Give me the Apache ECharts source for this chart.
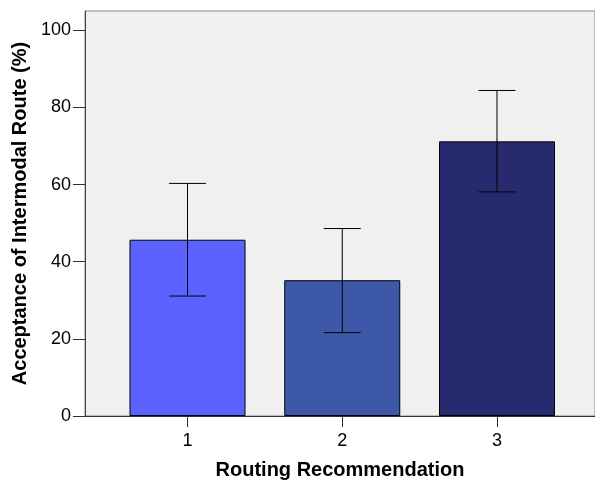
<!DOCTYPE html>
<html>
<head>
<meta charset="utf-8">
<script src="https://cdn.jsdelivr.net/npm/echarts@6/dist/echarts.min.js"></script>
<style>html,body{margin:0;padding:0;background:#fff}#c{width:595px;height:485px}</style>
</head>
<body>
<div id="c"></div>
<script>
const categories = [1, 2, 3];
const categoryLabels = ['1', '2', '3'];
const means = [45.7, 35.2, 71.2];
const errLow = [31.1, 21.6, 58.1];
const errHigh = [60.3, 48.6, 84.4];
const barColors = ['#5B62FF', '#3D58A8', '#282A70'];
const yTicks = [0, 20, 40, 60, 80, 100];

const chart = echarts.init(document.getElementById('c'));
const font = 'Arial, "Liberation Sans", sans-serif';

const barData = categories.map((c, i) => ({
  value: [c, means[i]],
  itemStyle: { color: barColors[i], borderColor: '#000', borderWidth: 1 }
}));
const errData = categories.map((c, i) => [c, errLow[i], errHigh[i]]);

chart.setOption({
  animation: false,
  grid: {
    left: 85, top: 11, right: 0, bottom: 68,
    show: true, backgroundColor: '#f0f0f0', borderColor: '#888', borderWidth: 1
  },
  xAxis: {
    type: 'value', min: 0.3376, max: 3.6333,
    name: 'Routing Recommendation', nameLocation: 'middle', nameGap: 44,
    nameTextStyle: { fontFamily: font, fontSize: 20, fontWeight: 'bold', color: '#000' },
    splitLine: { show: false },
    axisLine: { show: true, lineStyle: { color: '#333', width: 1 } },
    axisTick: { show: true, length: 11, lineStyle: { color: '#333' }, customValues: categories },
    axisLabel: { fontFamily: font, fontSize: 18, color: '#000', margin: 16,
      customValues: categories, formatter: v => categoryLabels[categories.indexOf(v)] }
  },
  yAxis: {
    type: 'value', min: 0, max: 105,
    name: 'Acceptance of Intermodal Route (%)', nameLocation: 'middle', nameGap: 54,
    nameTextStyle: { fontFamily: font, fontSize: 20, fontWeight: 'bold', color: '#000' },
    splitLine: { show: false },
    axisLine: { show: true, lineStyle: { color: '#444', width: 1 } },
    axisTick: { show: true, length: 12, lineStyle: { color: '#333' }, customValues: yTicks },
    axisLabel: { fontFamily: font, fontSize: 18, color: '#000', margin: 14, customValues: yTicks }
  },
  series: [
    { type: 'bar', data: barData, barWidth: 116 },
    {
      type: 'custom', data: errData, z: 10,
      renderItem: function (params, api) {
        const x = api.value(0);
        const lo = api.coord([x, api.value(1)]);
        const hi = api.coord([x, api.value(2)]);
        const hw = 18.5;
        const st = { stroke: '#000', lineWidth: 1 };
        return { type: 'group', children: [
          { type: 'line', shape: { x1: lo[0], y1: lo[1], x2: hi[0], y2: hi[1] }, style: st },
          { type: 'line', shape: { x1: lo[0] - hw, y1: lo[1], x2: lo[0] + hw, y2: lo[1] }, style: st },
          { type: 'line', shape: { x1: hi[0] - hw, y1: hi[1], x2: hi[0] + hw, y2: hi[1] }, style: st }
        ]};
      }
    }
  ]
});
</script>
</body>
</html>
